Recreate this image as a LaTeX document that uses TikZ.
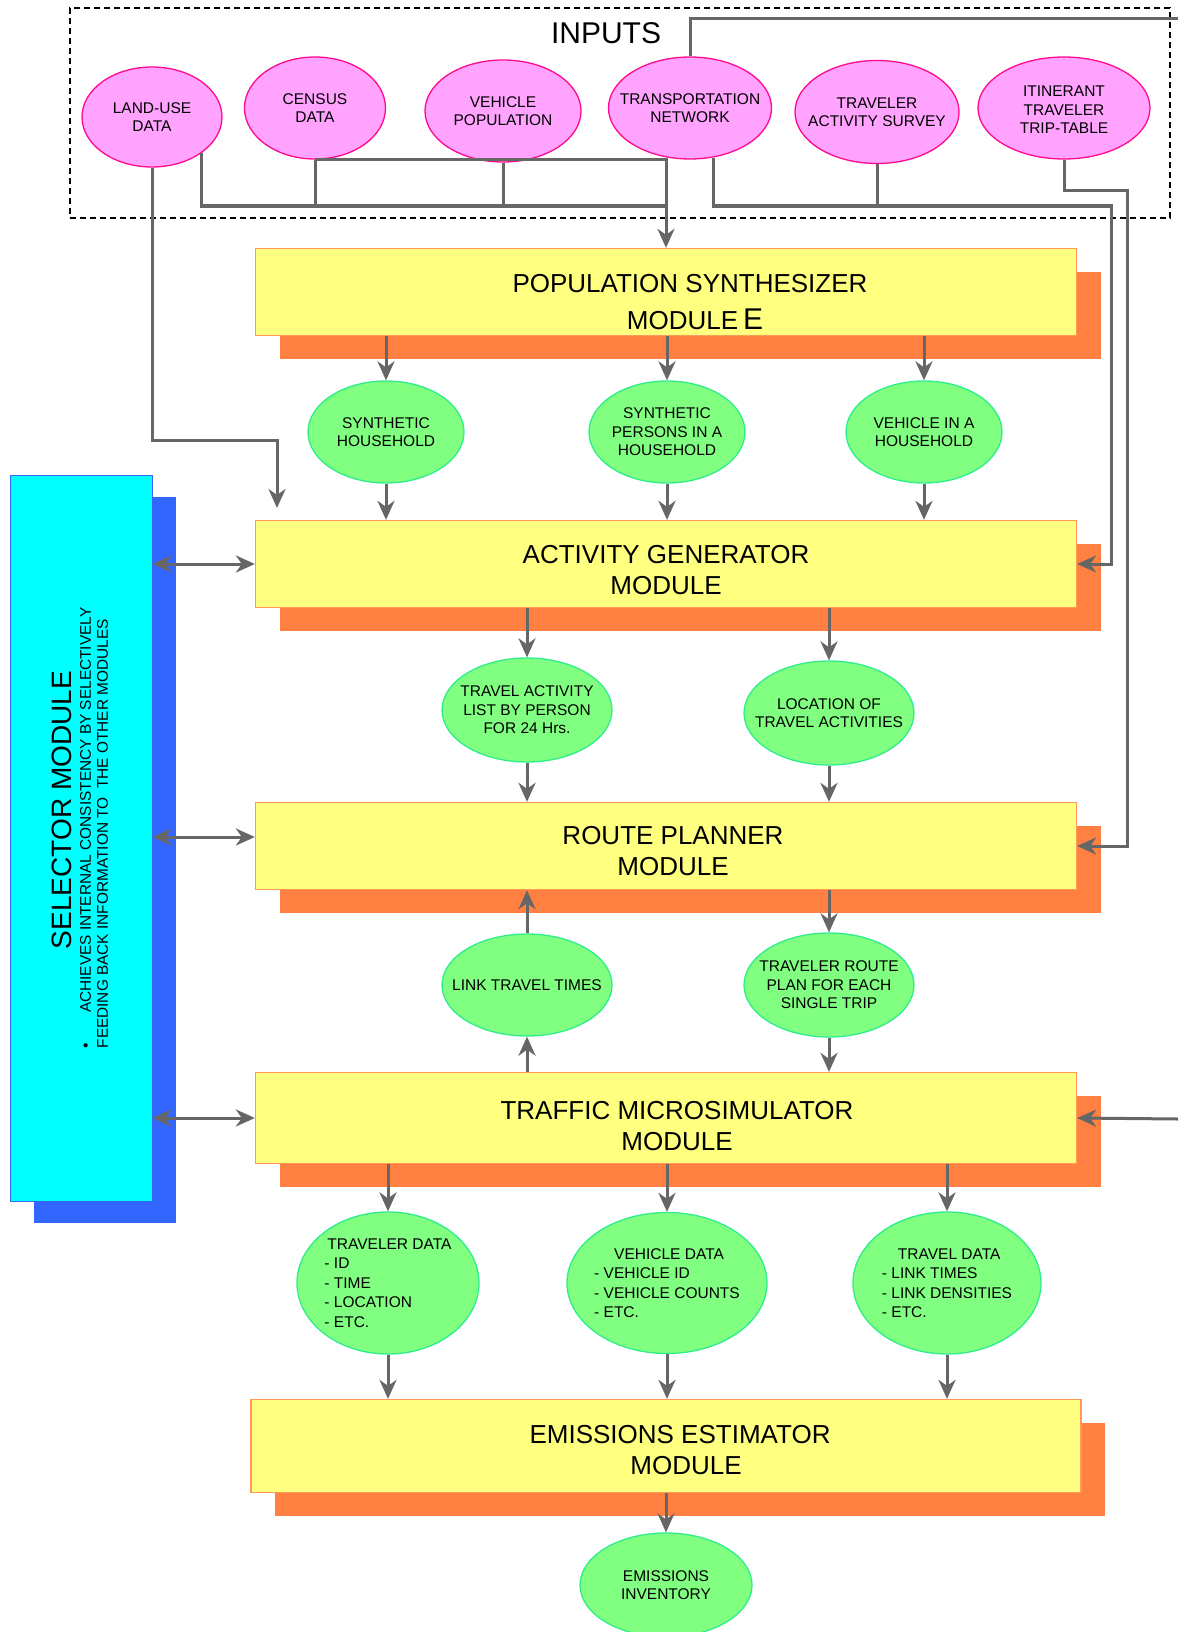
\documentclass[tikz,border=0pt]{standalone}
\usepackage{fontspec}
\setmainfont{Liberation Sans}
\usepackage{xcolor}
\usetikzlibrary{shapes.geometric,arrows.meta,shadows,calc}
\definecolor{pinkfill}{HTML}{FFA3FF}
\definecolor{pinkline}{HTML}{FF0A8C}
\definecolor{greenfill}{HTML}{80FF80}
\definecolor{greenline}{HTML}{2EEE8C}
\definecolor{boxfill}{HTML}{FFFF80}
\definecolor{boxline}{HTML}{FF9955}
\definecolor{boxshade}{HTML}{FF8040}
\definecolor{selfill}{HTML}{00FFFF}
\definecolor{selshade}{HTML}{3366FF}
\definecolor{wiregrey}{HTML}{666666}
\tikzset{
  wire/.style={draw=wiregrey,line width=3pt},
  arr/.style={wire,-{Stealth[length=19pt,width=17pt,inset=6pt]}},
  dblarr/.style={wire,{Stealth[length=19pt,width=17pt,inset=6pt]}-{Stealth[length=19pt,width=17pt,inset=6pt]}},
  inell/.style={ellipse,draw=pinkline,fill=pinkfill,line width=1.3pt,inner sep=0pt},
  outell/.style={ellipse,draw=greenline,fill=greenfill,line width=1.3pt,inner sep=0pt},
  elltxt/.style={font=\fontsize{15.5pt}{18.5pt}\selectfont,align=center},
  datatxt/.style={font=\fontsize{15.5pt}{19.5pt}\selectfont,align=left},
  modbox/.style={rectangle,draw=boxline,fill=boxfill,line width=1.3pt,minimum width=821pt,minimum height=87pt,
    drop shadow={shadow xshift=24pt,shadow yshift=-23pt,fill=boxshade,opacity=1}},
  modtxt/.style={font=\fontsize{26pt}{31pt}\selectfont,align=center},
}

\begin{document}
\begin{tikzpicture}[x=1pt,y=-1pt]
        \useasboundingbox (0,0) rectangle (1178,1632);

        %%% INPUTS %%%
        \node[draw,dash pattern=on 6pt off 4pt,line width=1.1pt,minimum width=1100pt,minimum height=210pt] (inbox) at (620,113) {};
        \node[font=\fontsize{30pt}{30pt}\selectfont] (intitle) at (606,33) {INPUTS};
        \node[inell,minimum width=140pt,minimum height=100pt,label={[elltxt]center:LAND-USE\\DATA}] (lu) at (152,117) {};
        \node[inell,minimum width=141pt,minimum height=102pt,label={[elltxt]center:CENSUS\\DATA}] (cen) at (315,108) {};
        \node[inell,minimum width=156pt,minimum height=102pt,label={[elltxt]center:VEHICLE\\POPULATION}] (vp) at (503,111) {};
        \node[inell,minimum width=163pt,minimum height=102pt,label={[elltxt]center:TRANSPORTATION\\NETWORK}] (tn) at (690,108) {};
        \node[inell,minimum width=164pt,minimum height=103pt,label={[elltxt]center:TRAVELER\\ACTIVITY SURVEY}] (tas) at (877,112) {};
        \node[inell,minimum width=172pt,minimum height=102pt,label={[elltxt,yshift=-2pt]center:ITINERANT\\TRAVELER\\TRIP-TABLE}] (itt) at (1064,108) {};

        %%% SELECTOR %%%
        \node[rectangle,draw=selshade,fill=selfill,line width=1pt,minimum width=142pt,minimum height=726pt,
          drop shadow={shadow xshift=24pt,shadow yshift=-22pt,fill=selshade,opacity=1}] (sel) at (81,838) {};
        \node[rotate=90,font=\fontsize{28pt}{28pt}\selectfont] (seltitle) at (62,810) {SELECTOR MODULE};
        \node[rotate=90,align=left,font=\fontsize{15.4pt}{17pt}\selectfont] (selnote) at (94,828)
          {\textbullet\hspace{30pt}ACHIEVES INTERNAL CONSISTENCY BY SELECTIVELY\\FEEDING BACK INFORMATION TO\ \ THE OTHER MODULES};

        %%% MODULES %%%
        \node[modbox,label={[modtxt,xshift=24pt,yshift=-10pt]center:POPULATION SYNTHESIZER\\[6pt]\hspace*{10pt}MODULE{\fontsize{30pt}{30pt}\selectfont\,E}}] (ps) at (666,292) {};
        \node[modbox,label={[modtxt,yshift=-6pt]center:ACTIVITY GENERATOR\\MODULE}] (ag) at (666,564) {};
        \node[modbox,label={[modtxt,xshift=7pt,yshift=-5pt]center:ROUTE PLANNER\\MODULE}] (rp) at (666,846) {};
        \node[modbox,minimum height=91pt,label={[modtxt,xshift=11pt,yshift=-8pt]center:TRAFFIC MICROSIMULATOR\\MODULE}] (tm) at (666,1118) {};
        \node[modbox,minimum width=830pt,minimum height=93pt,label={[modtxt,xshift=14pt,yshift=-4pt]center:EMISSIONS ESTIMATOR\\\hspace*{12pt}MODULE}] (ee) at (666,1446) {};

        %%% OUTPUTS %%%
        \node[outell,minimum width=156pt,minimum height=102pt,label={[elltxt]center:SYNTHETIC\\HOUSEHOLD}] (sh) at (386,432) {};
        \node[outell,minimum width=156pt,minimum height=102pt,label={[elltxt]center:SYNTHETIC\\PERSONS IN A\\HOUSEHOLD}] (sp) at (667,432) {};
        \node[outell,minimum width=156pt,minimum height=102pt,label={[elltxt]center:VEHICLE IN A\\HOUSEHOLD}] (vh) at (924,432) {};
        \node[outell,minimum width=170pt,minimum height=104pt,label={[elltxt]center:TRAVEL ACTIVITY\\LIST BY PERSON\\FOR 24 Hrs.}] (tal) at (527,710) {};
        \node[outell,minimum width=170pt,minimum height=104pt,label={[elltxt]center:LOCATION OF\\TRAVEL ACTIVITIES}] (loc) at (829,713) {};
        \node[outell,minimum width=170pt,minimum height=102pt,label={[elltxt]center:LINK TRAVEL TIMES}] (ltt) at (527,985) {};
        \node[outell,minimum width=170pt,minimum height=104pt,label={[elltxt]center:TRAVELER ROUTE\\PLAN FOR EACH\\SINGLE TRIP}] (trp) at (829,985) {};
        \node[outell,minimum width=182pt,minimum height=142pt,label={[datatxt]center:\hspace*{3pt}TRAVELER DATA\\- ID\\- TIME\\- LOCATION\\- ETC.}] (tdat) at (388,1283) {};
        \node[outell,minimum width=200pt,minimum height=141pt,label={[datatxt]center:\hspace*{20pt}VEHICLE DATA\\- VEHICLE ID\\- VEHICLE COUNTS\\- ETC.}] (vdat) at (667,1283) {};
        \node[outell,minimum width=188pt,minimum height=142pt,label={[datatxt]center:\hspace*{16pt}TRAVEL DATA\\- LINK TIMES\\- LINK DENSITIES\\- ETC.}] (tvdat) at (947,1283) {};
        \node[outell,minimum width=172pt,minimum height=104pt,label={[elltxt]center:EMISSIONS\\INVENTORY}] (ei) at (666,1585) {};

        %%% COORDINATES %%%
        \coordinate (psbus) at (666,206);
        \coordinate (agbus) at (1111,206);
        \coordinate (itbend) at (1127,191);
        \coordinate (lubend) at (277,440);
        \coordinate (luend) at (277,508);
        \coordinate (tnout) at (1178,19);
        \coordinate (tmin) at (1178,1119);

        %%% INPUT WIRES %%%
        \draw[wire] (cen.south) -| (psbus);
        \draw[wire] (cen.south) -- (cen.south |- psbus);
        \draw[wire] (vp.south) -- (vp.south |- psbus);
        \draw[arr] (lu.south east) |- (psbus) -- (ps.north);
        \draw[arr] (lu.south) |- (lubend) -- (luend);
        \draw[wire] (tn.north) |- (tnout);
        \draw[wire] (tas.south) -- (tas.south |- agbus);
        \draw[arr] (tn.-65) |- (agbus) |- (ag.east);
        \draw[arr] (itt.south) |- (itbend) |- (rp.east);
        \draw[arr] (tmin) -- (tm.east);

        %%% MODULE WIRES %%%
        \foreach \n in {sh,sp,vh}{
          \draw[arr] (ps.south -| \n) -- (\n.north);
          \draw[arr] (\n.south) -- (\n.south |- ag.north);
        }
        \foreach \n in {tal,loc}{
          \draw[arr] (ag.south -| \n) -- (\n.north);
          \draw[arr] (\n.south) -- (\n.south |- rp.north);
        }
        \draw[arr] (ltt.north) -- (ltt.north |- rp.south);
        \draw[arr] (tm.north -| ltt) -- (ltt.south);
        \draw[arr] (rp.south -| trp) -- (trp.north);
        \draw[arr] (trp.south) -- (trp.south |- tm.north);
        \foreach \n in {tdat,vdat,tvdat}{
          \draw[arr] (tm.south -| \n) -- (\n.north);
          \draw[arr] (\n.south) -- (\n.south |- ee.north);
        }
        \draw[arr] (ee.south -| ei) -- (ei.north);

        %%% SELECTOR WIRES %%%
        \draw[dblarr] (sel.east |- ag.west) -- (ag.west);
        \draw[dblarr] ($(sel.east |- rp.west)+(0,-9)$) -- ($(rp.west)+(0,-9)$);
        \draw[dblarr] (sel.east |- tm.west) -- (tm.west);
\end{tikzpicture}
\end{document}
